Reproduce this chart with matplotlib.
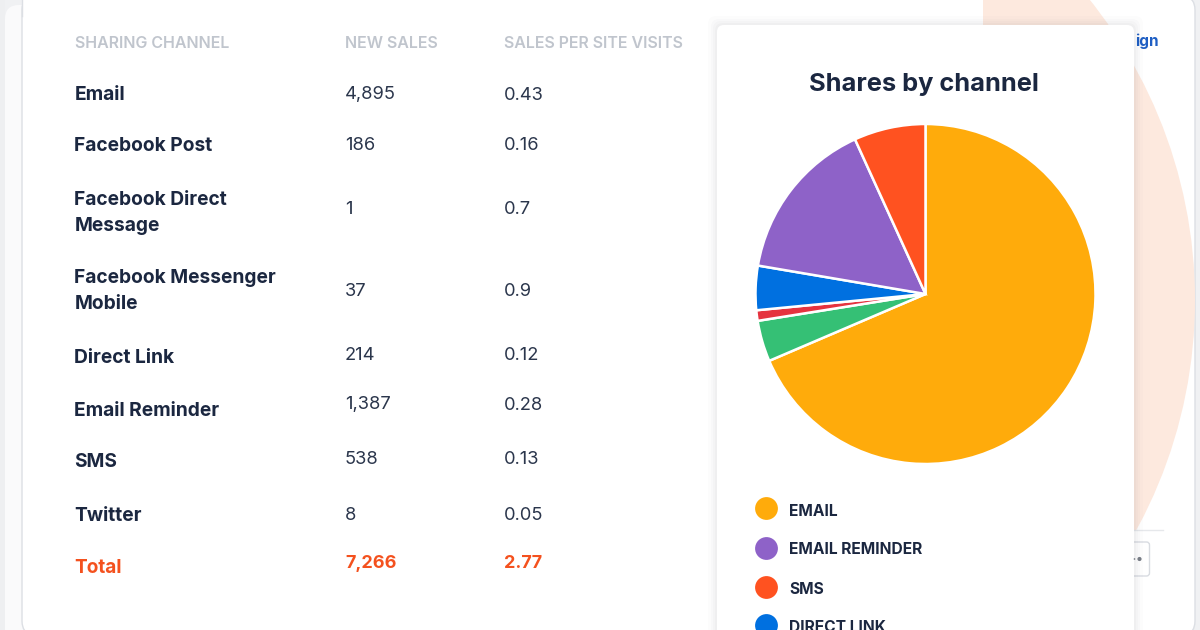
import matplotlib
matplotlib.use("Agg")
import matplotlib.pyplot as plt
from matplotlib.patches import FancyBboxPatch, Circle, Rectangle

plt.rcParams['font.family'] = ['Inter', 'DejaVu Sans']

headers = ["SHARING CHANNEL", "NEW SALES", "SALES PER SITE VISITS"]
channels = ["Email", "Facebook Post", "Facebook Direct\nMessage", "Facebook Messenger\nMobile",
            "Direct Link", "Email Reminder", "SMS", "Twitter"]
new_sales = ["4,895", "186", "1", "37", "214", "1,387", "538", "8"]
sales_per_visit = ["0.43", "0.16", "0.7", "0.9", "0.12", "0.28", "0.13", "0.05"]
total_row = ["Total", "7,266", "2.77"]

# shares in percent (clockwise from the top)
pie_labels = ["Email", "Facebook Post", "Twitter", "Direct Link", "Email Reminder", "SMS"]
pie_shares = [68.5, 3.9, 1.0, 4.2, 15.5, 6.8]
pie_colors = ["#ffab0b", "#35c075", "#e5333f", "#0070e0", "#8e62c8", "#ff5220"]

legend_labels = ["EMAIL", "EMAIL REMINDER", "SMS", "DIRECT LINK"]
legend_colors = ["#ffab0b", "#8e62c8", "#ff5220", "#0070e0"]

# layout, in reference pixels
label_y = [95, 146, 213, 291, 358, 411, 462, 516]
value_y = [95, 145, 209, 291, 355, 405, 460, 515]
legend_y = [508, 548, 587, 625]
legend_text_y = [511, 549, 589, 628]

DARK = "#1b2740"
ORANGE = "#f4511e"

fig = plt.figure(figsize=(12, 6.3), dpi=100, facecolor="#f0f1f3")
bg = fig.add_axes([0, 0, 1, 1])
bg.set_xlim(0, 1200)
bg.set_ylim(630, 0)
bg.axis("off")

# page layers behind the main card
bg.add_patch(Rectangle((0, 0), 5, 630, fc="#eeeff1", ec="none", zorder=0))
bg.add_patch(FancyBboxPatch((5, 5), 60, 700, boxstyle="round,pad=0,rounding_size=14",
                            fc="#fafafb", ec="none", zorder=0.5))
bg.add_patch(FancyBboxPatch((22, -4), 1173, 639, boxstyle="round,pad=0,rounding_size=14",
                            fc="white", ec="#dcdfe4", lw=1, zorder=1))
bg.add_patch(Rectangle((23, -4), 60, 20, fc="white", ec="none", zorder=1.1))
bg.plot([22, 22], [0, 16], color="#dcdfe4", lw=1, zorder=1.1)

# peach circle inside the card
clip = Rectangle((983, 0), 212, 530, transform=bg.transData)
peach = Circle((714, 300), 481, fc="#fde9de", ec="none", zorder=1.5)
bg.add_patch(peach)
peach.set_clip_path(clip)

# stuff peeking out from behind the pie card
bg.text(1158.5, 41, "ign", color="#1f5fc4", fontsize=11, fontweight="bold",
        ha="right", va="center", zorder=1.6)
bg.plot([1134, 1163], [530, 530], color="#e6e8eb", lw=1, zorder=1.6)
bg.add_patch(FancyBboxPatch((1100, 542), 49.5, 34, boxstyle="round,pad=0,rounding_size=3",
                            fc="white", ec="#d9dce1", lw=1, zorder=1.6))
bg.scatter([1139.5, 1134.5], [559, 559], s=[9, 1.5], color="#777c85", linewidths=0, zorder=2.5)

# pie card with soft shadow
for grow, alpha in [(9, 0.012), (6, 0.015), (4, 0.02), (2, 0.025)]:
    bg.add_patch(FancyBboxPatch((717 - grow, 25 - grow), 417 + 2 * grow, 700,
                                boxstyle="round,pad=0,rounding_size=8",
                                fc="#30384a", ec="none", alpha=alpha, zorder=2))
bg.add_patch(FancyBboxPatch((717, 25), 417, 700, boxstyle="round,pad=0,rounding_size=7",
                            fc="white", ec="none", zorder=2.1))

# table
for x, h in zip([75, 345, 504], headers):
    bg.text(x, 43.5, h, color="#c0c5cd", fontsize=11.5, fontweight="semibold", va="center", zorder=3)
for name, ly, sale, spv, vy in zip(channels, label_y, new_sales, sales_per_visit, value_y):
    bg.text(74.5, ly, name, color=DARK, fontsize=13.8, fontweight="bold", va="center",
            linespacing=1.54, zorder=3)
    bg.text(345, vy, sale, color="#2b364c", fontsize=13.2, va="center", zorder=3)
    bg.text(504, vy, spv, color="#2b364c", fontsize=13.2, va="center", zorder=3)
bg.text(74.2, 568, total_row[0], color=ORANGE, fontsize=13.7, fontweight="bold", va="center", zorder=3)
bg.text(345, 564, total_row[1], color=ORANGE, fontsize=13, fontweight="bold", va="center", zorder=3)
bg.text(504, 564, total_row[2], color=ORANGE, fontsize=13, fontweight="bold", va="center", zorder=3)

bg.text(924, 84, "Shares by channel", color=DARK, fontsize=18.3, fontweight="bold",
        ha="center", va="center", zorder=3)

# legend
for lab, col, my, ty in zip(legend_labels, legend_colors, legend_y, legend_text_y):
    bg.scatter([766], [my], s=270, color=col, linewidths=0, zorder=3)
    bg.text(789, ty, lab, color=DARK, fontsize=11.2, fontweight="bold", va="center", zorder=3)

# pie: centre (925.5, 294), radius 170 px
pie_ax = fig.add_axes([(925.5 - 175) / 1200, 1 - (294 + 175) / 630, 350 / 1200, 350 / 630])
pie_ax.set_zorder(5)
pie_ax.patch.set_alpha(0)
pie_ax.pie(pie_shares, colors=pie_colors, startangle=90, counterclock=False, radius=170 / 175,
           wedgeprops=dict(edgecolor="white", linewidth=1.8))
pie_ax.set_xlim(-1, 1)
pie_ax.set_ylim(-1, 1)

fig.savefig("out.png", dpi=100, facecolor=fig.get_facecolor())
